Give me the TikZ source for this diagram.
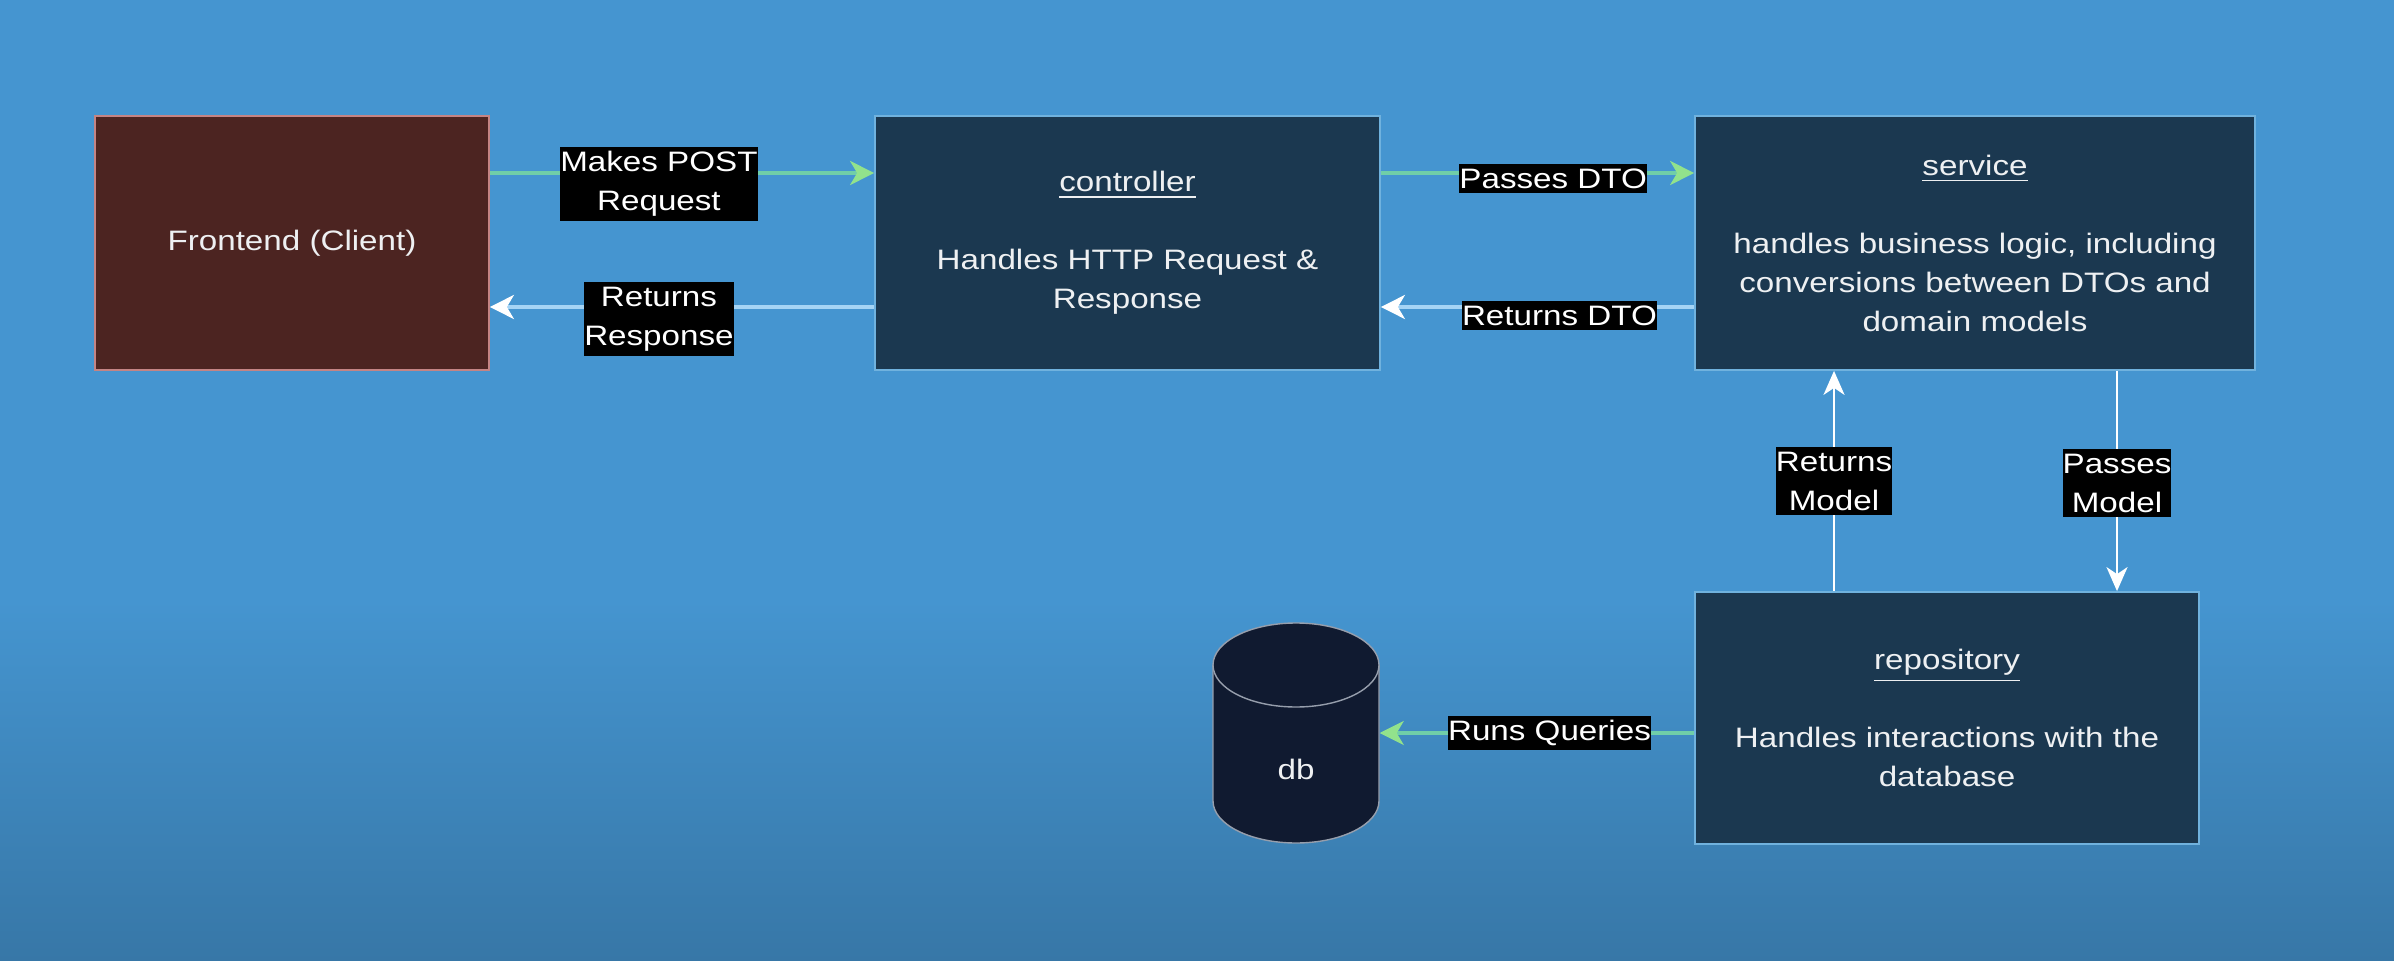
\documentclass[tikz,border=0pt]{standalone}
\usepackage{fontspec}
\setmainfont[FakeStretch=1.18]{Liberation Sans}
\usetikzlibrary{arrows.meta,calc}

\begin{document}
\begin{tikzpicture}[x=0.1mm,y=0.1mm,yscale=-1,xscale=1,
  txt/.style={text={rgb,255:red,238;green,240;blue,242},font=\fontsize{8}{11.1}\selectfont,align=center},
  box/.style={txt,draw={rgb,255:red,112;green,178;blue,222},line width=0.5pt,fill={rgb,255:red,27;green,56;blue,80},minimum height=25.4mm},
  clientbox/.style={box,draw={rgb,255:red,196;green,132;blue,132},fill={rgb,255:red,76;green,36;blue,33}},
  dbnode/.style={txt,minimum width=16.6mm,minimum height=22mm,inner sep=0pt},
  can/.style={draw={rgb,255:red,150;green,158;blue,172},line width=0.4pt,fill={rgb,255:red,16;green,26;blue,48}},
  lbl/.style={txt,fill=black,text=white,inner xsep=0pt,inner ysep=1.3pt},
  go/.style={draw={rgb,255:red,112;green,206;blue,168},line width=1pt,-{Stealth[length=2.4mm,width=2.4mm,inset=0.7mm,color={rgb,255:red,146;green,226;blue,140}]}},
  back/.style={draw={rgb,255:red,165;green,212;blue,245},line width=1pt,-{Stealth[length=2.4mm,width=2.4mm,inset=0.7mm,color=white]}},
  plain/.style={draw=white,line width=0.7pt,-{Stealth[length=2.4mm,width=2.1mm,inset=0.7mm,color=white]}}
]
%uncomment if require: \path (0,961); %picture is 2394 by 961
\useasboundingbox (0,0) rectangle (2394,961);

%Background
\fill [color={rgb, 255:red, 69; green, 149; blue, 208 }] (0,0) rectangle (2394,601);
\shade [top color={rgb, 255:red, 69; green, 149; blue, 208 }, bottom color={rgb, 255:red, 55; green, 119; blue, 167 }] (0,600) rectangle (2394,961);

%Shape: Rectangle
\node [clientbox,minimum width=39.4mm] (front) at (292,243) {Frontend (Client)};
%Shape: Rectangle
\node [box,minimum width=50.5mm] (ctrl) at (1127.5,243) {\underline{controller}\\[11.1pt]Handles HTTP Request \&\\Response};
%Shape: Rectangle
\node [box,minimum width=56mm] (service) at (1975,243) {\underline{service}\\[11.1pt]handles business logic, including\\conversions between DTOs and\\domain models};
%Shape: Rectangle
\node [box,minimum width=50.4mm,minimum height=25.2mm] (repo) at (1947,718) {\underline{repository}\\[11.1pt]Handles interactions with the\\database};

%Shape: Can
\draw [can] (1213,665) -- (1213,801) arc [start angle=180,end angle=0,x radius=83,y radius=42] -- (1379,665) arc [start angle=0,end angle=-180,x radius=83,y radius=42] -- cycle;
\draw [can] (1213,665) arc [start angle=180,end angle=0,x radius=83,y radius=42];
% Text Node
\node [dbnode] (db) at (1296,733) {\raisebox{-4.6mm}[0pt][0pt]{db}};

%Straight Lines
\draw [go] ($(front.east)+(0,-70)$) -- ($(ctrl.west)+(0,-70)$) node [lbl,pos=0.44,yshift=-3.1pt] {Makes POST\\Request};
\draw [back] ($(ctrl.west)+(0,64)$) -- ($(front.east)+(0,64)$) node [lbl,pos=0.56,yshift=-3.4pt] {Returns\\Response};
\draw [go] ($(ctrl.east)+(0,-70)$) -- ($(service.west)+(0,-70)$) node [lbl,pos=0.55,yshift=-1.6pt] {Passes DTO};
\draw [back] ($(service.west)+(0,64)$) -- ($(ctrl.east)+(0,64)$) node [lbl,pos=0.43,yshift=-2.4pt] {Returns DTO};

\coordinate (rmb) at ($(repo.north)+(-113,0)$);
\coordinate (pmt) at ($(service.south)+(142,0)$);
\draw [plain] (rmb) -- (rmb |- service.south) node [lbl,pos=0.5] {Returns\\Model};
\draw [plain] (pmt) -- (pmt |- repo.north) node [lbl,pos=0.51] {Passes\\Model};

\draw [go] (repo.west |- db.east) -- (db.east) node [lbl,pos=0.46] {Runs Queries};

\end{tikzpicture}
\end{document}
